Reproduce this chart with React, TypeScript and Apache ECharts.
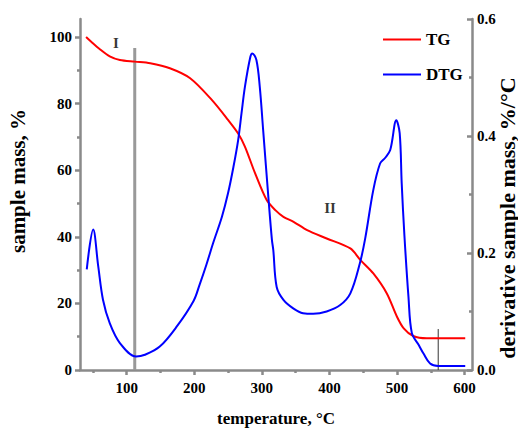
import React, { useEffect, useRef } from "react";
import * as echarts from "echarts";

// TG curve: temperature (°C) vs. sample mass (%)
const tgTemp = [40, 48, 60, 75, 90, 112, 135, 164, 194, 226, 250, 265, 275, 290, 307, 320, 332, 347, 367, 396, 431, 446, 465, 485, 500, 510, 524, 544, 575, 601];
const tgMass = [100, 98.5, 96.4, 94.2, 93.1, 92.6, 92.1, 90.6, 87.6, 81.1, 75.1, 71.0, 67.1, 59.1, 51.1, 48.0, 46.0, 44.5, 42.0, 39.5, 36.5, 33.0, 29.0, 23.0, 16.0, 12.5, 10.2, 9.5, 9.5, 9.5];

// DTG curve: temperature (°C) vs. derivative sample mass (%/°C)
const dtgTemp = [41, 50.5, 58, 65, 75, 90, 114, 127, 149, 174, 199, 208, 218, 228, 241, 250, 258, 265, 270, 275, 283, 286, 292, 297, 302, 310, 315, 317, 322, 332, 347, 361, 376, 396, 416, 431, 445, 453, 465, 475, 482, 490, 499, 504, 507, 511, 517, 522, 532, 539, 549, 561, 601];
const dtgRate = [0.172, 0.240, 0.177, 0.120, 0.080, 0.046, 0.023, 0.026, 0.040, 0.074, 0.118, 0.146, 0.180, 0.217, 0.262, 0.302, 0.347, 0.393, 0.439, 0.484, 0.535, 0.541, 0.530, 0.484, 0.410, 0.291, 0.222, 0.205, 0.142, 0.120, 0.105, 0.097, 0.096, 0.100, 0.111, 0.131, 0.182, 0.225, 0.308, 0.353, 0.362, 0.376, 0.427, 0.405, 0.319, 0.230, 0.125, 0.063, 0.043, 0.0285, 0.011, 0.007, 0.007];

// Stage boundaries and stage labels
const boundaryTemps = [112, 561];
const boundaryTops = [96.7, 12.3];
const stageNames = ["I", "II"];
const stageTemps = [84, 401];
const stageMass = [98.2, 48.6];

// Axis ticks
const tempTicks = [100, 200, 300, 400, 500, 600];
const tempMinorTicks = [50, 150, 250, 350, 450, 550];
const massTicks = [0, 20, 40, 60, 80, 100];
const massMinorTicks = [10, 30, 50, 70, 90];

const FONT = "'Liberation Serif', 'Times New Roman', serif";
const AXIS_GRAY = "#8a8a8a";

export default function App() {
  const ref = useRef<HTMLDivElement>(null);

  useEffect(() => {
    if (!ref.current) return;
    const chart = echarts.init(ref.current, undefined, { renderer: "svg" });

    const labelStyle = { color: "#000", fontFamily: FONT, fontWeight: "bold" as const, fontSize: 15 };
    const lineStyle = { color: AXIS_GRAY, width: 2.5 };

    chart.setOption({
      animation: false,
      backgroundColor: "#fff",
      grid: { left: 80, right: 46, top: 19, bottom: 60, containLabel: false },
      legend: {
        data: ["TG", "DTG"],
        orient: "vertical",
        left: 377,
        top: 26,
        itemWidth: 38,
        itemHeight: 14,
        itemGap: 18,
        itemStyle: { opacity: 0 },
        textStyle: { color: "#000", fontFamily: FONT, fontWeight: "bold", fontSize: 17 },
      },
      xAxis: [
        {
          type: "value",
          position: "bottom",
          min: 31,
          max: 611,
          splitLine: { show: false },
          axisLine: { show: true, onZero: false, lineStyle },
          axisTick: { show: true, length: 5, customValues: tempTicks, lineStyle },
          axisLabel: { ...labelStyle, margin: 10, customValues: tempTicks },
        },
        {
          type: "value",
          position: "bottom",
          min: 31,
          max: 611,
          splitLine: { show: false },
          axisLine: { show: false },
          axisTick: { show: true, length: 3, customValues: tempMinorTicks, lineStyle },
          axisLabel: { show: false },
        },
      ],
      yAxis: [
        {
          type: "value",
          position: "left",
          min: 0,
          max: 105.4,
          splitLine: { show: false },
          axisLine: { show: true, onZero: false, lineStyle },
          axisTick: { show: true, length: 5, customValues: massTicks, lineStyle },
          axisLabel: { ...labelStyle, margin: 8, customValues: massTicks },
        },
        {
          type: "value",
          position: "right",
          min: 0,
          max: 0.6,
          interval: 0.2,
          splitLine: { show: false },
          axisLine: { show: true, onZero: false, lineStyle },
          axisTick: { show: true, inside: true, length: 5, lineStyle },
          minorTick: { show: true, splitNumber: 2, length: 3, lineStyle },
          axisLabel: { ...labelStyle, margin: 5, formatter: (v: number) => v.toFixed(1) },
        },
        {
          type: "value",
          position: "left",
          min: 0,
          max: 105.4,
          splitLine: { show: false },
          axisLine: { show: false },
          axisTick: { show: true, length: 3, customValues: massMinorTicks, lineStyle },
          axisLabel: { show: false },
        },
      ],
      series: [
        {
          name: "boundary-1",
          type: "line",
          xAxisIndex: 0,
          yAxisIndex: 0,
          symbol: "none",
          silent: true,
          lineStyle: { color: "#999", width: 3 },
          data: [[boundaryTemps[0], 0], [boundaryTemps[0], boundaryTops[0]]],
        },
        {
          name: "boundary-2",
          type: "line",
          xAxisIndex: 0,
          yAxisIndex: 0,
          symbol: "none",
          silent: true,
          lineStyle: { color: "#333", width: 1 },
          data: [[boundaryTemps[1], 0], [boundaryTemps[1], boundaryTops[1]]],
        },
        {
          name: "TG",
          type: "line",
          xAxisIndex: 0,
          yAxisIndex: 0,
          symbol: "none",
          smooth: 0.3,
          color: "#ff0000",
          lineStyle: { color: "#ff0000", width: 2 },
          data: tgTemp.map((t, i) => [t, tgMass[i]]),
        },
        {
          name: "DTG",
          type: "line",
          xAxisIndex: 0,
          yAxisIndex: 1,
          symbol: "none",
          smooth: 0.35,
          color: "#0000ff",
          lineStyle: { color: "#0000ff", width: 2 },
          data: dtgTemp.map((t, i) => [t, dtgRate[i]]),
        },
        {
          name: "stages",
          type: "scatter",
          xAxisIndex: 0,
          yAxisIndex: 0,
          symbolSize: 1,
          silent: true,
          itemStyle: { color: "rgba(0,0,0,0)" },
          label: {
            show: true,
            position: "inside",
            formatter: (p: any) => p.name,
            color: "#000",
            fontFamily: FONT,
            fontWeight: "bold",
            fontSize: 15,
          },
          data: stageNames.map((n, i) => ({ name: n, value: [stageTemps[i], stageMass[i]] })),
        },
      ],
      graphic: [
        {
          type: "text",
          x: 18,
          y: 181,
          rotation: Math.PI / 2,
          style: {
            text: "sample mass, %",
            fill: "#000",
            font: `bold 21px ${FONT}`,
            align: "center",
            verticalAlign: "middle",
          },
        },
        {
          type: "text",
          x: 507,
          y: 218,
          rotation: Math.PI / 2,
          style: {
            text: "derivative sample mass, %/°C",
            fill: "#000",
            font: `bold 22px ${FONT}`,
            align: "center",
            verticalAlign: "middle",
          },
        },
        {
          type: "text",
          x: 276,
          y: 418,
          style: {
            text: "temperature, °C",
            fill: "#000",
            font: `bold 17px ${FONT}`,
            align: "center",
            verticalAlign: "middle",
          },
        },
      ],
    });

    return () => chart.dispose();
  }, []);

  return (
    <div
      ref={ref}
      style={{ position: "fixed", left: 0, top: 0, width: 518, height: 430, background: "#fff" }}
    />
  );
}
